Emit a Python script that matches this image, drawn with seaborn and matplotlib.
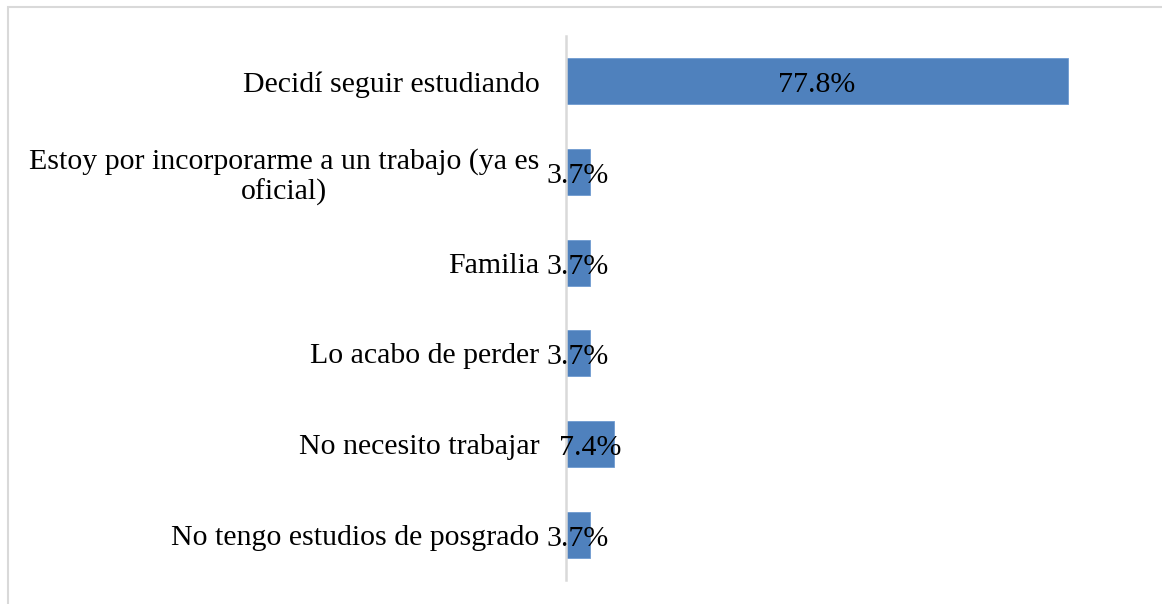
import matplotlib
matplotlib.use('Agg')
import matplotlib.pyplot as plt
import seaborn as sns
import pandas as pd
from matplotlib.patches import Rectangle

categories = [
    'Decidí seguir estudiando',
    'Estoy por incorporarme a un trabajo (ya es\noficial)',
    'Familia',
    'Lo acabo de perder',
    'No necesito trabajar',
    'No tengo estudios de posgrado',
]
values = [77.8, 3.7, 3.7, 3.7, 7.4, 3.7]
value_labels = ['77.8%', '3.7%', '3.7%', '3.7%', '7.4%', '3.7%']

df = pd.DataFrame({'motivo': categories, 'pct': values})

sns.set_theme(style='white')
plt.rcParams['font.family'] = ['Liberation Serif', 'DejaVu Serif']

fig = plt.figure(figsize=(11.62, 6.04), dpi=100)
W, H = 1162, 604
ax = fig.add_axes([566 / W, (604 - 580) / H, (1150 - 566) / W, (580 - 36) / H])

# chart frame
fig.patches.append(Rectangle((8 / W, -0.1), 1.2, (604 - 7) / H + 0.1,
                             transform=fig.transFigure, fill=False,
                             edgecolor='#d9d9d9', linewidth=1.5))

sns.barplot(data=df, y='motivo', x='pct', orient='h', color='#4f81bd',
            saturation=1, width=0.505, edgecolor='#6f9ad0', linewidth=0.6, ax=ax)

labels = ax.bar_label(ax.containers[0], labels=value_labels, label_type='center',
                      fontsize=21.5, color='black')
for t in labels:
    t.xyann = (0, -3)  # data labels sit a little below the bar centre

ax.set_xlim(0, (1150 - 566) / ((1068 - 566) / 77.8))
ax.set_xlabel('')
ax.set_ylabel('')
ax.set_xticks([])
for s in ['top', 'right', 'bottom']:
    ax.spines[s].set_visible(False)
ax.spines['left'].set_color('#d9d9d9')
ax.spines['left'].set_linewidth(1.8)
ax.tick_params(axis='y', length=0, pad=19, labelsize=21.5, labelcolor='black')
for t in ax.get_yticklabels():
    t.set_multialignment('center')

fig.savefig('out.png', dpi=100)
